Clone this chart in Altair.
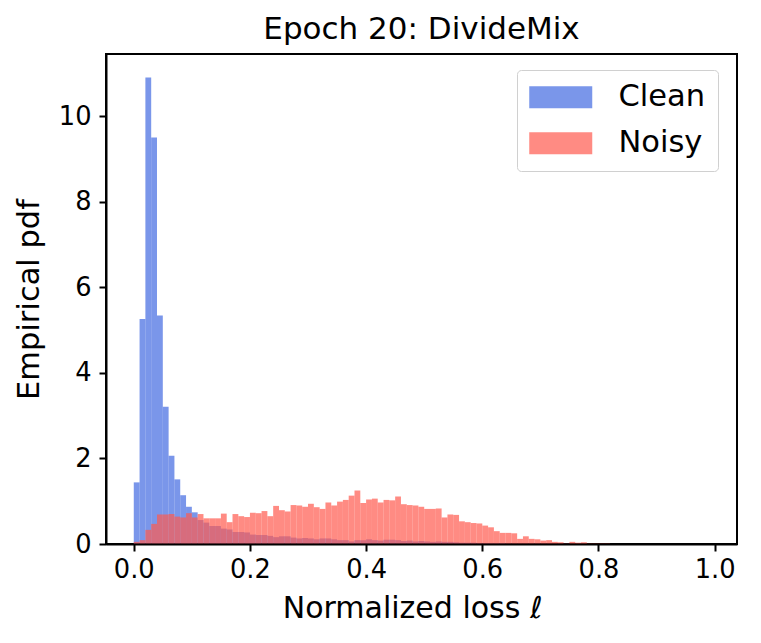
import altair as alt
import pandas as pd

# Histogram values (empirical pdf) per bin of width 0.01 starting at 0.0
clean_pdf = [
    1.44, 5.26, 10.90, 9.50, 5.34, 3.21, 2.06, 1.51, 1.14, 0.87,
    0.74, 0.56, 0.50, 0.42, 0.42, 0.36, 0.34, 0.28, 0.28, 0.27,
    0.22, 0.21, 0.21, 0.19, 0.16, 0.18, 0.18, 0.15, 0.13, 0.14,
    0.13, 0.11, 0.13, 0.13, 0.11, 0.09, 0.09, 0.06, 0.09, 0.09,
    0.11, 0.09, 0.08, 0.10, 0.10, 0.09, 0.07, 0.08, 0.06, 0.07,
    0.06, 0.05, 0.06, 0.05, 0.05, 0.04, 0.03, 0.03, 0.03, 0.02,
    0.02, 0.02, 0.02, 0.02, 0.01, 0.01, 0.01, 0.01, 0.01, 0.01,
    0.01, 0.01, 0.005, 0.005, 0.005, 0.005, 0.005, 0.005, 0.0, 0.0,
    0.0, 0.0, 0.0, 0.0, 0.0, 0.0, 0.0, 0.0, 0.0, 0.0,
    0.0, 0.0, 0.0, 0.0, 0.0, 0.0, 0.0, 0.0, 0.0, 0.0,
]
noisy_pdf = [
    0.05, 0.09, 0.33, 0.47, 0.69, 0.69, 0.70, 0.64, 0.62, 0.72,
    0.62, 0.70, 0.60, 0.60, 0.60, 0.71, 0.51, 0.70, 0.65, 0.63,
    0.73, 0.72, 0.77, 0.65, 0.89, 0.79, 0.76, 0.91, 0.90, 0.87,
    0.94, 0.86, 0.82, 0.97, 0.90, 0.99, 1.03, 1.13, 1.25, 0.96,
    1.04, 1.06, 0.97, 1.03, 1.02, 1.11, 0.93, 0.91, 0.90, 0.87,
    0.82, 0.82, 0.83, 0.62, 0.69, 0.68, 0.53, 0.51, 0.49, 0.48,
    0.43, 0.39, 0.30, 0.26, 0.26, 0.25, 0.12, 0.18, 0.12, 0.11,
    0.08, 0.09, 0.05, 0.04, 0.01, 0.05, 0.03, 0.04, 0.01, 0.01,
    0.01, 0.01, 0.0, 0.0, 0.0, 0.0, 0.0, 0.0, 0.0, 0.0,
    0.0, 0.0, 0.0, 0.0, 0.0, 0.0, 0.0, 0.0, 0.0, 0.0,
]
series_names = ["Clean", "Noisy"]
series_colors = ["#4169E1", "#FF5A4E"]
bin_width = 0.01
x_ticks = [0.0, 0.2, 0.4, 0.6, 0.8, 1.0]
y_ticks = [0, 2, 4, 6, 8, 10]

rows = []
for name, vals in zip(series_names, [clean_pdf, noisy_pdf]):
    for i, v in enumerate(vals):
        rows.append({"series": name, "x0": i * bin_width, "x1": (i + 1) * bin_width, "pdf": v})
df = pd.DataFrame(rows)
df["order"] = df["series"].map({"Clean": 0, "Noisy": 1})

FONT = "DejaVu Sans"

chart = (
    alt.Chart(df)
    .mark_rect(opacity=0.7, strokeWidth=0)
    .encode(
        x=alt.X(
            "x0:Q",
            scale=alt.Scale(domain=[-0.0478, 1.0385], nice=False, zero=False),
            axis=alt.Axis(
                title="Normalized loss ℓ",
                values=x_ticks,
                format=".1f",
                grid=False,
                tickSize=7,
                tickWidth=2,
                tickColor="black",
                domainColor="black",
                domainWidth=2,
                labelFontSize=25.7,
                labelColor="black",
                labelPadding=6,
                labelFlush=False,
                titleFontSize=30,
                titleFontWeight="normal",
                titleColor="black",
                titlePadding=12,
                titleX=306,
                titleAlign="center",
                zindex=1,
            ),
        ),
        x2="x1:Q",
        y=alt.Y(
            "pdf:Q",
            scale=alt.Scale(domain=[0, 11.45], nice=False),
            axis=alt.Axis(
                title="Empirical pdf",
                values=y_ticks,
                format="d",
                grid=False,
                tickSize=7,
                tickWidth=2,
                tickColor="black",
                domainColor="black",
                domainWidth=2,
                labelFontSize=25.7,
                labelColor="black",
                labelPadding=8,
                labelFlush=False,
                titleFontSize=30.5,
                titleFontWeight="normal",
                titleColor="black",
                titlePadding=14,
                zindex=1,
            ),
        ),
        y2=alt.datum(0),
        color=alt.Color(
            "series:N",
            scale=alt.Scale(domain=series_names, range=series_colors),
            legend=alt.Legend(
                title=None,
                orient="none",
                legendX=411,
                legendY=16,
                symbolType="M-1.364,-1H4.363V1H-1.364Z",
                symbolSize=484,
                symbolOpacity=0.7,
                symbolStrokeWidth=0,
                labelFontSize=30.5,
                labelFont=FONT,
                labelColor="black",
                labelOffset=59,
                rowPadding=15,
                padding=12,
                fillColor="white",
                strokeColor="#d0d0d0",
                cornerRadius=4,
            ),
        ),
        order=alt.Order("order:Q"),
    )
    .properties(
        width=631,
        height=490,
        title=alt.TitleParams(
            "Epoch 20: DivideMix",
            fontSize=31,
            font=FONT,
            fontWeight="normal",
            color="black",
            anchor="middle",
            offset=8,
        ),
        autosize=alt.AutoSizeParams(type="none"),
        padding={"left": 98, "top": 46, "right": 16, "bottom": 90},
    )
    .configure(font=FONT)
    .configure_view(stroke="black", strokeWidth=2)
    .configure_axis(labelFont=FONT, titleFont=FONT)
)

chart.save("out.html", embed_options={"renderer": "svg", "actions": False})
